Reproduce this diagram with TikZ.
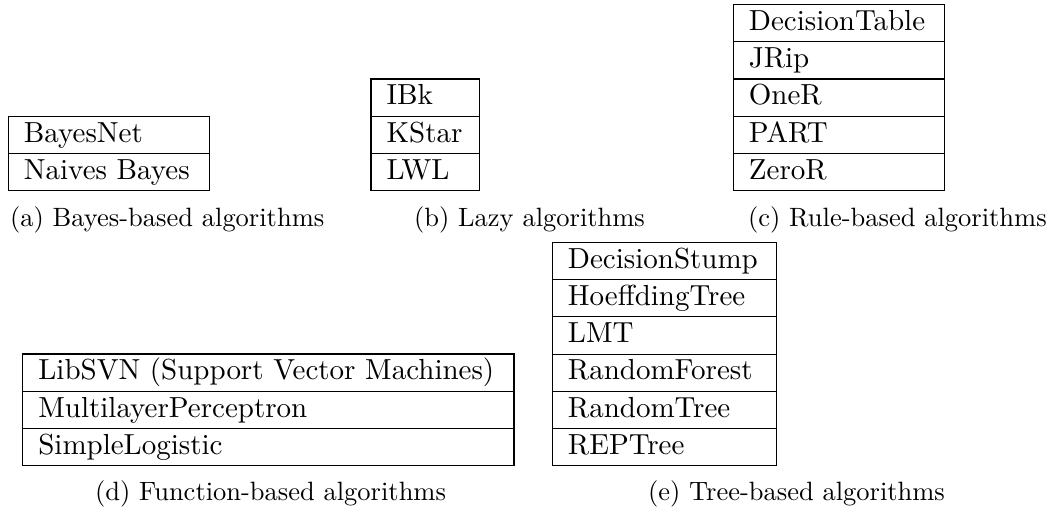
\documentclass[tikz,border=0pt]{standalone}
\newcommand\tabfont{\fontsize{10.95}{13.6}\selectfont}
\newcommand\capfont{\fontsize{10}{12}\selectfont}
\tikzset{
  tabrow/.style={draw, line width=0.4pt, rectangle, outer sep=0pt,
    inner xsep=5.9pt, inner ysep=0pt, text height=9.75pt, text depth=4.3pt,
    align=left, text width=#1, font=\tabfont},
  subcap/.style={anchor=base west, inner sep=0pt, font=\capfont}
}
\begin{document}
\begin{tikzpicture}[x=0.3776pt, y=0.3776pt]
\useasboundingbox (0,0) rectangle (1054,-512);

% (a) Bayes-based
\node[tabrow=64.1pt, anchor=north west] (a1) at (8.3,-116.2) {BayesNet};
\node[tabrow=64.1pt, anchor=north] (a2) at (a1.south) {Naives Bayes};
\node[subcap] (capa) at (9.5,-226) {(a) Bayes-based algorithms};

% (b) Lazy
\node[tabrow=29.2pt, anchor=north west] (b1) at (371,-79.0) {IBk};
\node[tabrow=29.2pt, anchor=north] (b2) at (b1.south) {KStar};
\node[tabrow=29.2pt, anchor=north] (b3) at (b2.south) {LWL};
\node[subcap] (capb) at (413.5,-226) {(b) Lazy algorithms};

% (c) Rule-based
\node[tabrow=68.0pt, anchor=north west] (c1) at (733.3,-4.6) {DecisionTable};
\node[tabrow=68.0pt, anchor=north] (c2) at (c1.south) {JRip};
\node[tabrow=68.0pt, anchor=north] (c3) at (c2.south) {OneR};
\node[tabrow=68.0pt, anchor=north] (c4) at (c3.south) {PART};
\node[tabrow=68.0pt, anchor=north] (c5) at (c4.south) {ZeroR};
\node[subcap] (capc) at (747.5,-226) {(c) Rule-based algorithms};

% (d) Function-based
\node[tabrow=173.7pt, anchor=north west] (d1) at (22.7,-354.0) {LibSVN (Support Vector Machines)};
\node[tabrow=173.7pt, anchor=north] (d2) at (d1.south) {MultilayerPerceptron};
\node[tabrow=173.7pt, anchor=north] (d3) at (d2.south) {SimpleLogistic};
\node[subcap] (capd) at (94.5,-500.5) {(d) Function-based algorithms};

% (e) Tree-based
\node[tabrow=72.8pt, anchor=north west] (e1) at (552.3,-242.4) {DecisionStump};
\node[tabrow=72.8pt, anchor=north] (e2) at (e1.south) {HoeffdingTree};
\node[tabrow=72.8pt, anchor=north] (e3) at (e2.south) {LMT};
\node[tabrow=72.8pt, anchor=north] (e4) at (e3.south) {RandomForest};
\node[tabrow=72.8pt, anchor=north] (e5) at (e4.south) {RandomTree};
\node[tabrow=72.8pt, anchor=north] (e6) at (e5.south) {REPTree};
\node[subcap] (cape) at (647.5,-500.5) {(e) Tree-based algorithms};
\end{tikzpicture}
\end{document}
